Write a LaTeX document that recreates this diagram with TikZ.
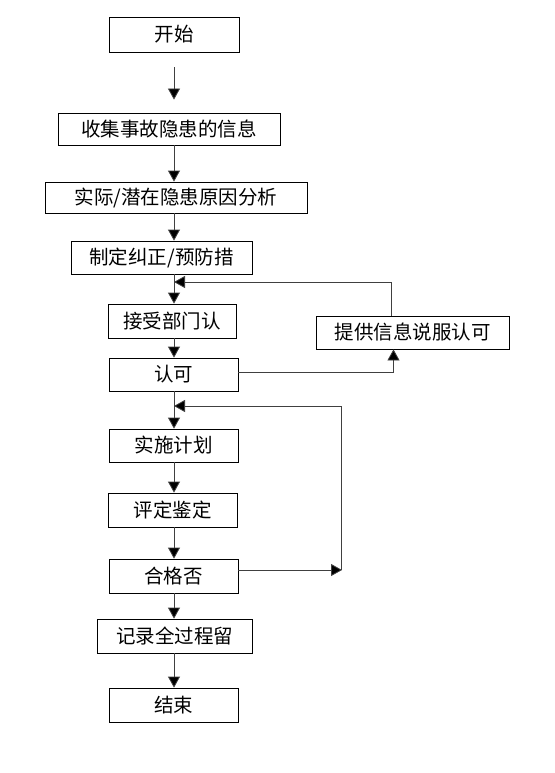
\documentclass[tikz,border=0pt]{standalone}
\usepackage{fontspec}
\newfontfamily\cjk{Noto Sans CJK SC}
\usetikzlibrary{arrows.meta,calc}
\begin{document}
\begin{tikzpicture}[x=1pt,y=-1pt,
  box/.style={draw=black,line width=0.8pt,rectangle,inner sep=0pt,font=\cjk\fontsize{19.5}{22}\selectfont},
  arr/.style={draw=black!75,line width=0.8pt,-{Triangle[length=11pt,width=12pt,fill=black]}},
  ln/.style={draw=black!75,line width=0.8pt}]
\useasboundingbox (0,0) rectangle (554,773);
\node[box,minimum width=130,minimum height=35] (s) at (174,34.5) {开始};
\node[box,minimum width=222,minimum height=32] (b2) at (169,129) {收集事故隐患的信息};
\node[box,minimum width=262,minimum height=31] (b3) at (176,197.5) {实际/潜在隐患原因分析};
\node[box,minimum width=181,minimum height=33] (b4) at (161.5,257.5) {制定纠正/预防措};
\node[box,minimum width=128,minimum height=34] (b5) at (172,321) {接受部门认};
\node[box,minimum width=129,minimum height=33] (b6) at (173.5,374.5) {认可};
\node[box,minimum width=193,minimum height=33] (b7) at (412.5,332.5) {提供信息说服认可};
\node[box,minimum width=129,minimum height=33] (b8) at (173.5,445.5) {实施计划};
\node[box,minimum width=129,minimum height=34] (b9) at (172.5,510) {评定鉴定};
\node[box,minimum width=129,minimum height=34] (b10) at (173.5,576) {合格否};
\node[box,minimum width=155,minimum height=34] (b11) at (174.5,636) {记录全过程留};
\node[box,minimum width=129,minimum height=34] (b12) at (173.5,705) {结束};
\coordinate (sp) at (174,0);
\coordinate (j1) at (174,282);
\coordinate (j2) at (174,406);
\coordinate (r2) at (342,570);
% main spine
\draw[arr,shorten <=15pt,shorten >=13pt] (s.south-|sp) -- (b2.north-|sp);
\draw[arr] (b2.south-|sp) -- (b3.north-|sp);
\draw[arr] (b3.south-|sp) -- (b4.north-|sp);
\draw[arr] (b4.south-|sp) -- (b5.north-|sp);
\draw[arr] (b5.south-|sp) -- (b6.north-|sp);
\draw[arr] (b6.south-|sp) -- (b8.north-|sp);
\draw[arr] (b8.south-|sp) -- (b9.north-|sp);
\draw[arr] (b9.south-|sp) -- (b10.north-|sp);
\draw[arr] (b10.south-|sp) -- (b11.north-|sp);
\draw[arr] (b11.south-|sp) -- (b12.north-|sp);
% feedback loop 1
\draw[arr] ($(b7.north)+(-21,0)$) |- (j1);
\draw[arr] ($(b6.east)+(0,-2.5)$) -| ($(b7.south)+(-19,0)$);
% feedback loop 2
\draw[arr] (b10.east|-r2) -- (r2);
\draw[arr] ($(r2)+(-1,0)$) |- (j2);
\end{tikzpicture}
\end{document}
